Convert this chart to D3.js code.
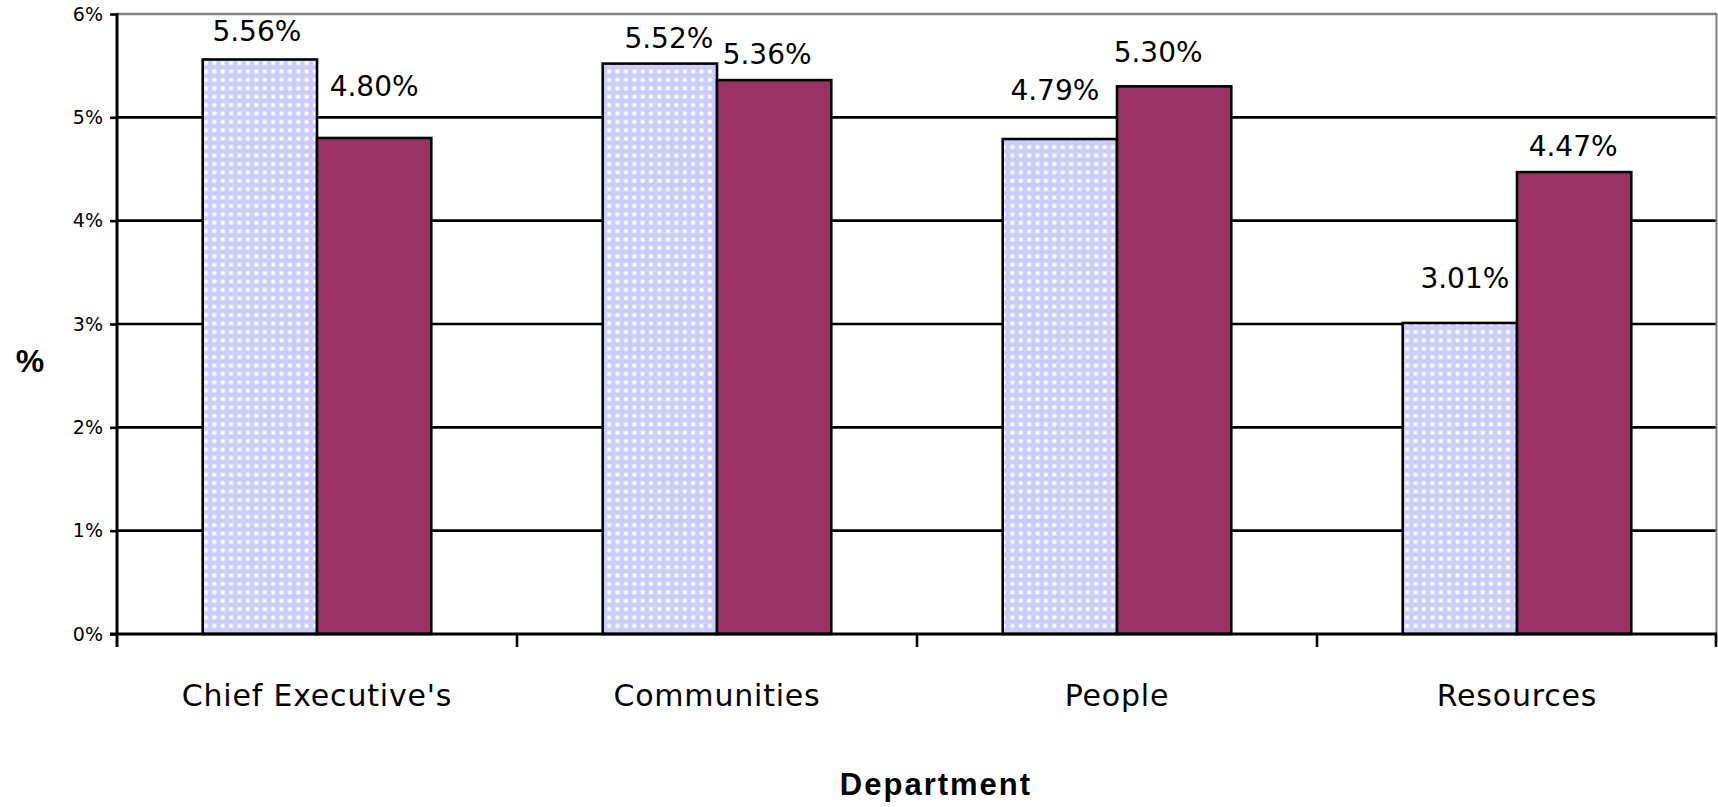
<!DOCTYPE html>
<html>
<head>
<meta charset="utf-8">
<script src="https://cdn.jsdelivr.net/npm/d3@7"></script>
<style>
  html, body { margin: 0; padding: 0; background: #fff; }
  svg { display: block; }
</style>
</head>
<body>
<svg id="chart" width="1718" height="807"></svg>
<script>
// ---- data ----
const categories = ["Chief Executive's", "Communities", "People", "Resources"];
const seriesNames = ["Series 1", "Series 2"];
const series1 = [5.56, 5.52, 4.79, 3.01];
const series2 = [4.80, 5.36, 5.30, 4.47];
const yTicks = [0, 1, 2, 3, 4, 5, 6];
const yTickLabels = ["0%", "1%", "2%", "3%", "4%", "5%", "6%"];
const xTitle = "Department";
const yTitle = "%";

// ---- layout / style (not data) ----
const W = 1718, H = 807;
const plot = { left: 117, right: 1717, top: 14, bottom: 634 };
const colors = ["url(#dots)", "#993366"];
// manual label nudges (px) relative to default "outside end" position
const labelNudge = [
  [[-3, -2], [9, 0], [-5, -23], [5, -19]],
  [[0, -26], [-7, 0], [-16, -8], [-1, 0]]
];

const svg = d3.select("#chart");
svg.append("rect").attr("width", W).attr("height", H).attr("fill", "#fff");

const defs = svg.append("defs");
const pat = defs.append("pattern").attr("id", "dots")
  .attr("patternUnits", "userSpaceOnUse").attr("width", 8.4).attr("height", 8.4);
pat.append("rect").attr("width", 8.4).attr("height", 8.4).attr("fill", "#CCCCFF");
pat.append("rect").attr("x", 2.4).attr("y", 2.4).attr("width", 3.8).attr("height", 3.8).attr("fill", "#fff");

const x = d3.scaleBand().domain(categories).range([plot.left, plot.right]).paddingInner(0).paddingOuter(0);
const xs = d3.scaleBand().domain(seriesNames).range([0, x.bandwidth()]).paddingInner(0).paddingOuter(0.75);
const y = d3.scaleLinear().domain([0, 6]).range([plot.bottom, plot.top]);

// gridlines
svg.append("g").selectAll("line").data(yTicks.filter(t => t > 0 && t < 6)).join("line")
  .attr("x1", plot.left).attr("x2", plot.right)
  .attr("y1", d => y(d)).attr("y2", d => y(d))
  .attr("stroke", "#000").attr("stroke-width", 2.6);

// top and right border (grey)
svg.append("line").attr("x1", plot.left).attr("x2", plot.right)
  .attr("y1", y(6)).attr("y2", y(6)).attr("stroke", "#808080").attr("stroke-width", 2.6);
svg.append("line").attr("x1", plot.right - 0.5).attr("x2", plot.right - 0.5)
  .attr("y1", y(6)).attr("y2", plot.bottom).attr("stroke", "#808080").attr("stroke-width", 2);

// bars
const data = seriesNames.map((s, i) => ({ name: s, values: i === 0 ? series1 : series2, idx: i }));
const gSeries = svg.append("g").selectAll("g").data(data).join("g");
gSeries.selectAll("rect").data(d => d.values.map((v, j) => ({ v, j, s: d.name, i: d.idx }))).join("rect")
  .attr("x", d => x(categories[d.j]) + xs(d.s))
  .attr("y", d => y(d.v))
  .attr("width", xs.bandwidth())
  .attr("height", d => y(0) - y(d.v))
  .attr("fill", d => colors[d.i])
  .attr("stroke", "#000").attr("stroke-width", 2.6);

// data labels
gSeries.selectAll("text").data(d => d.values.map((v, j) => ({ v, j, s: d.name, i: d.idx }))).join("text")
  .attr("x", d => x(categories[d.j]) + xs(d.s) + xs.bandwidth() / 2 + labelNudge[d.i][d.j][0])
  .attr("y", d => y(d.v) - 16 + labelNudge[d.i][d.j][1])
  .attr("text-anchor", "middle")
  .attr("font-family", "DejaVu Sans, sans-serif")
  .attr("font-size", 28)
  .attr("fill", "#000")
  .text(d => d.v.toFixed(2) + "%");

// y axis
const yAxis = d3.axisLeft(y).tickValues(yTicks).tickFormat((d, i) => yTickLabels[i]).tickSize(7).tickPadding(7);
const gy = svg.append("g").attr("transform", `translate(${plot.left},0)`).call(yAxis);
gy.select(".domain").remove();
gy.selectAll(".tick line").attr("stroke", "#000").attr("stroke-width", 2.6);
gy.selectAll(".tick text").attr("font-family", "DejaVu Sans, sans-serif").attr("font-size", 19).attr("fill", "#000");
svg.append("line").attr("x1", plot.left).attr("x2", plot.left)
  .attr("y1", plot.top - 1).attr("y2", plot.bottom + 13).attr("stroke", "#000").attr("stroke-width", 3);

// x axis
svg.append("line").attr("x1", plot.left - 7).attr("x2", plot.right)
  .attr("y1", plot.bottom).attr("y2", plot.bottom).attr("stroke", "#000").attr("stroke-width", 3);
const boundaries = categories.map(c => x(c)).concat([x(categories[categories.length - 1]) + x.bandwidth()]);
svg.append("g").selectAll("line").data(boundaries.slice(1)).join("line")
  .attr("x1", d => Math.min(d, plot.right - 1)).attr("x2", d => Math.min(d, plot.right - 1))
  .attr("y1", plot.bottom).attr("y2", plot.bottom + 13)
  .attr("stroke", "#000").attr("stroke-width", 2.6);

svg.append("g").selectAll("text").data(categories).join("text")
  .attr("x", d => x(d) + x.bandwidth() / 2)
  .attr("y", 706)
  .attr("text-anchor", "middle")
  .attr("font-family", "DejaVu Sans, sans-serif")
  .attr("font-size", 30)
  .attr("letter-spacing", 0.8)
  .attr("fill", "#000")
  .text(d => d);

// axis titles
svg.append("text").attr("x", 936).attr("y", 795).attr("text-anchor", "middle")
  .attr("font-family", "Liberation Sans, Arial, sans-serif").attr("font-weight", "bold")
  .attr("font-size", 31).attr("letter-spacing", 2).attr("fill", "#000").text(xTitle);
svg.append("text").attr("x", 30).attr("y", 372).attr("text-anchor", "middle")
  .attr("font-family", "Liberation Sans, Arial, sans-serif").attr("font-weight", "bold")
  .attr("font-size", 32).attr("fill", "#000").text(yTitle);
</script>
</body>
</html>
